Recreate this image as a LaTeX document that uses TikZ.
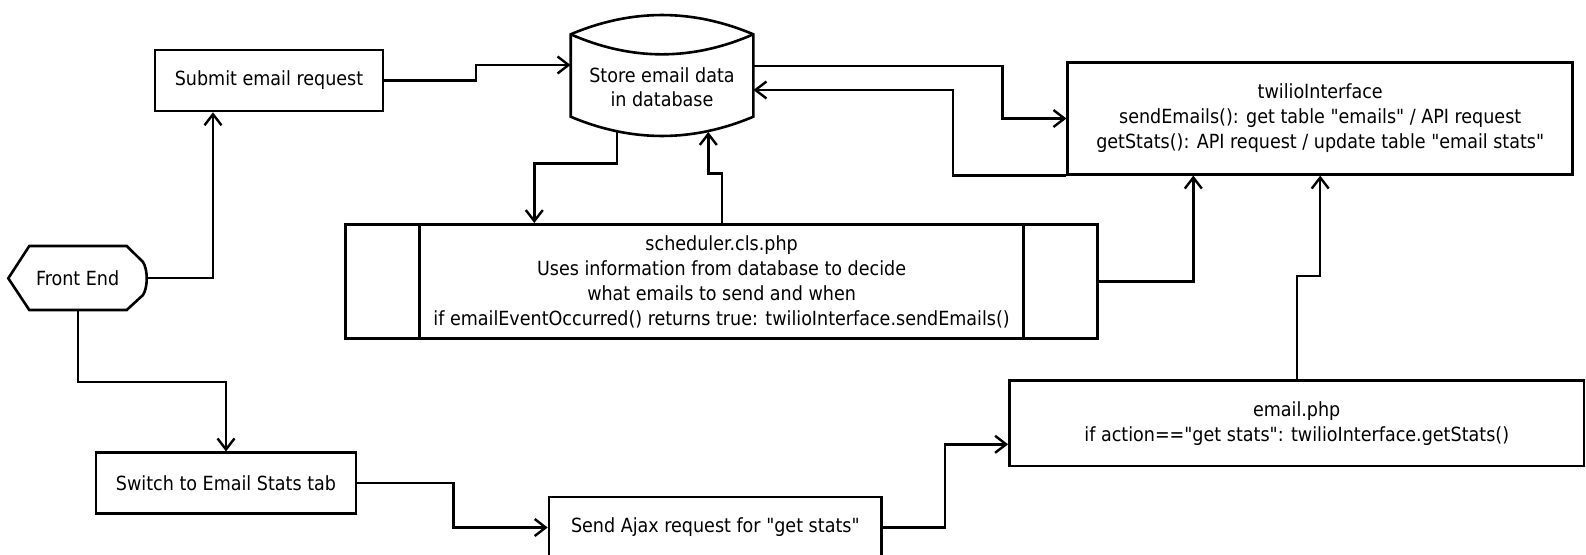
\documentclass[tikz,border=0pt]{standalone}
\usepackage{fontspec}
\setmainfont{DejaVu Sans Condensed}[Ligatures=TeXOff]
\usetikzlibrary{arrows.meta}
\newcommand\dgfont{\fontsize{19.5}{25}\selectfont}
\begin{document}
\begin{tikzpicture}[x=1pt,y=-1pt,
  box/.style={draw,line width=2.6pt,align=center,inner sep=0pt,font=\dgfont},
  plain/.style={align=center,inner sep=0pt,font=\dgfont},
  shp/.style={draw,line width=2.6pt,line join=miter},
  arr/.style={line width=2.4pt,-{Straight Barb[length=11pt,width=17pt]}}]
\useasboundingbox (0,0) rectangle (1586,554);

% nodes
\node[box,minimum width=228pt,minimum height=61pt] (submit) at (269,80.5) {Submit email request};
\node[plain,minimum width=139pt,minimum height=64pt] (fe) at (77.7,278) {Front End};
\draw[shp] (8.3,278.3) -- (29.3,246) -- (126.7,246) -- (143,262)
  .. controls (148,270) and (148,287) .. (143,295) -- (126.7,310) -- (29.3,310) -- cycle;
\node[plain,minimum width=182.6pt,font=\fontsize{19.5}{24}\selectfont] (db) at (662,87) {Store email data\\in database};
\draw[shp] (570.7,34.3) .. controls (631.6,8.6) and (692.4,8.6) .. (753.3,34.3) -- (753.3,116.7)
  .. controls (692.4,142.4) and (631.6,142.4) .. (570.7,116.7) -- cycle;
\draw[shp] (570.7,34.3) .. controls (631.6,61) and (692.4,61) .. (753.3,34.3);
\node[box,minimum width=505pt,minimum height=111.6pt] (twilio) at (1320.2,118.5)
  {twilioInterface\\sendEmails(): get table "emails" / API request\\getStats(): API request / update table "email stats"};
\node[box,minimum width=751.8pt,minimum height=114.2pt] (sched) at (721.6,281.4)
  {scheduler.cls.php\\Uses information from database to decide\\what emails to send and when\\if emailEventOccurred() returns true: twilioInterface.sendEmails()};
\draw[shp] ([xshift=75.3pt]sched.north west) -- ([xshift=75.3pt]sched.south west);
\draw[shp] ([xshift=-75.3pt]sched.north east) -- ([xshift=-75.3pt]sched.south east);
\node[box,minimum width=574.7pt,minimum height=85.3pt] (email) at (1296.7,423.3)
  {email.php\\if action=="get stats": twilioInterface.getStats()};
\node[box,minimum width=260pt,minimum height=60.6pt] (switch) at (226,483) {Switch to Email Stats tab};
\node[box,minimum width=332.7pt,minimum height=61pt] (ajax) at (715.3,527.5) {Send Ajax request for "get stats"};

\coordinate (dbout) at (616.7,131.5);
\coordinate (dbin) at (708.3,132);

% connectors
\draw[arr] (fe.east) -| (213,0 |- submit.south);
\draw[arr] (fe.south) -- ++(0,71.7) -| (switch.north);
\draw[arr] (submit.east) -| (476,65) -- (db.west |- 0,65);
\draw[arr] (db.east |- 0,65.7) -- (1002.3,65.7) |- (twilio.west);
\draw[arr] (twilio.south west) -| (953,90) -- (db.east |- 0,90);
\draw[arr] (dbout) |- (534.3,163.3) -- (534.3,0 |- sched.north);
\draw[arr] (721.7,0 |- sched.north) |- (708.3,173.3) -- (dbin);
\draw[arr] (sched.east) -| (1193.3,0 |- twilio.south);
\draw[arr] (email.north) -- ++(0,-103.4) -| (twilio.south);
\draw[arr] (switch.east) -| (453.3,527.5) -- (ajax.west);
\draw[arr] (ajax.east) -| (945,444.3) -- (email.west |- 0,444.3);
\end{tikzpicture}
\end{document}
